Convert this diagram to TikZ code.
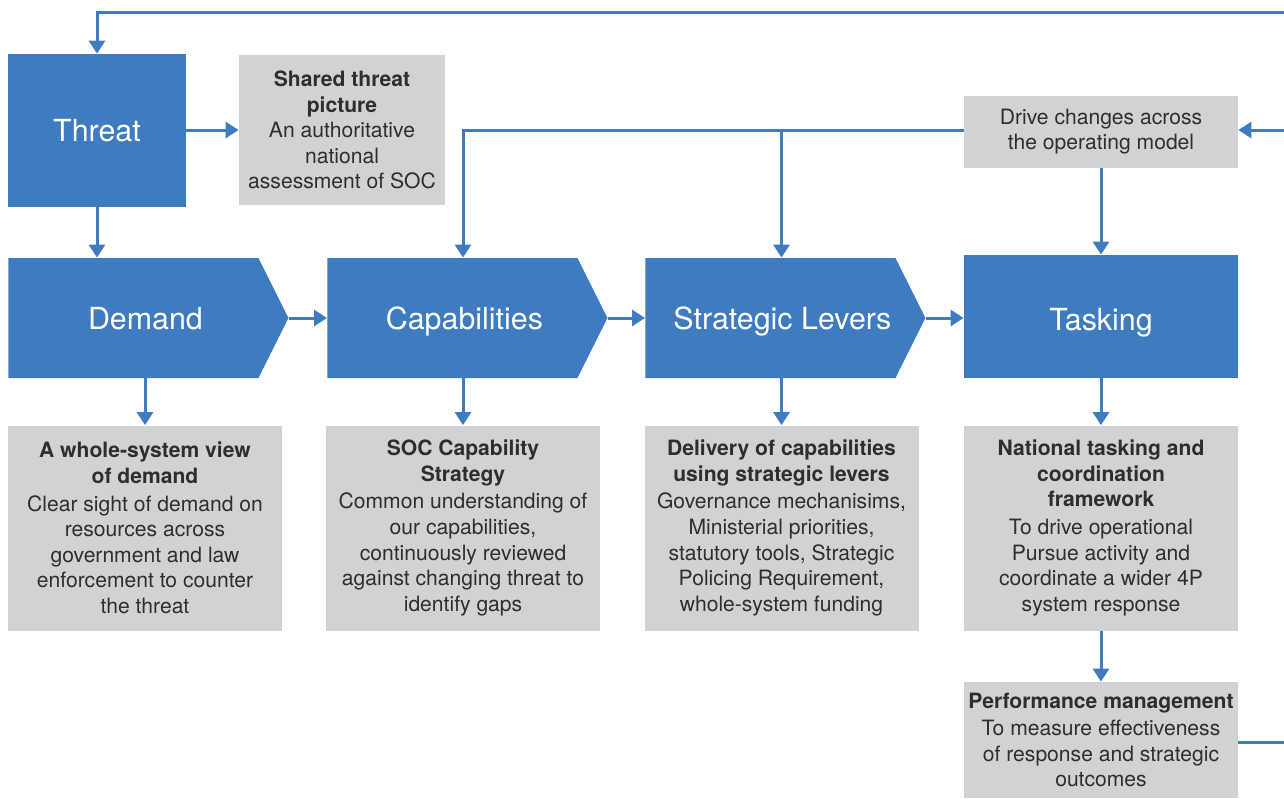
\documentclass[tikz,border=0pt]{standalone}
\usepackage{fontspec}
\setmainfont{TeX Gyre Heros}
\usetikzlibrary{arrows.meta,shapes.symbols}
\definecolor{socblue}{HTML}{3E7CBF}
\definecolor{socgray}{HTML}{D1D2D4}
\definecolor{soctext}{HTML}{2E2E2E}

\begin{document}
\begin{tikzpicture}[x=0.5pt,y=-0.5pt,
  bluebox/.style={fill=socblue,text=white,inner sep=0pt,text height=11pt,text depth=0pt,font=\fontsize{15.2}{18}\selectfont},
  chev/.style={bluebox,shape=signal,signal to=east,signal pointer angle=127,minimum width=140pt,minimum height=60pt,anchor=west,
    execute at begin node={\hspace*{12pt}}},
  infobox/.style={fill=socgray,text=soctext,align=center,inner sep=0pt,minimum width=137pt,font=\fontsize{10.55}{12.8}\selectfont},
  link/.style={socblue,line width=1.5pt,-{Triangle[width=8pt,length=6.5pt]}},
  plain/.style={socblue,line width=1.5pt}]
\useasboundingbox (0,0) rectangle (1284,798);

\coordinate (topR) at (1284,12);
\coordinate (midR) at (1284,130);
\coordinate (botR) at (1284,742);

\node[bluebox,minimum width=89pt,minimum height=76.5pt] (threat) at (97,130.5) {Threat};
\node[infobox,minimum width=103pt,minimum height=75pt] (shared) at (342,130)
  {\textbf{Shared threat}\\\textbf{picture}\\An authoritative\\national\\assessment of SOC};
\node[infobox,minimum height=36pt] (drive) at (1101,131.5)
  {Drive changes across\\the operating model};

\node[chev] (dem) at (8,318) {Demand};
\node[chev] (cap) at (327,318) {Capabilities};
\node[chev] (strat) at (645,318) {Strategic Levers};
\node[bluebox,minimum width=137pt,minimum height=61.5pt,text height=14pt] (task) at (1101,316.5) {Tasking};

\node[infobox,minimum height=102.5pt] (demi) at (145,528)
  {\textbf{A whole-system view}\\\textbf{of demand}\\[1pt]Clear sight of demand on\\resources across\\government and law\\enforcement to counter\\the threat};
\node[infobox,minimum height=102.5pt] (capi) at (463,528)
  {\textbf{SOC Capability}\\\textbf{Strategy}\\[1pt]Common understanding of\\our capabilities,\\continuously reviewed\\against changing threat to\\identify gaps};
\node[infobox,minimum height=102.5pt] (strati) at (781.5,528)
  {\textbf{Delivery of capabilities}\\\textbf{using strategic levers}\\[1pt]Governance mechanisims,\\Ministerial priorities,\\statutory tools, Strategic\\Policing Requirement,\\whole-system funding};
\node[infobox,minimum height=102.5pt] (taski) at (1101,528)
  {\textbf{National tasking and}\\\textbf{coordination}\\\textbf{framework}\\[1pt]To drive operational\\Pursue activity and\\coordinate a wider 4P\\system response};
\node[infobox,minimum height=58pt] (perf) at (1101,740)
  {\textbf{Performance management}\\[1pt]To measure effectiveness\\of response and strategic\\outcomes};

% feedback loop
\draw[link] (topR) -| (threat.north);
\draw[link] (threat.east |- midR) -- (shared.west |- midR);
\draw[link] (threat.south) -- (threat.south |- dem.north);

% main flow
\draw[link] (dem.east) -- (cap.west);
\draw[link] (cap.east) -- (strat.west);
\draw[link] (strat.east) -- (task.west |- strat.east);

\draw[link] (demi.north |- dem.south) -- (demi.north);
\draw[link] (capi.north |- cap.south) -- (capi.north);
\draw[link] (strati.north |- strat.south) -- (strati.north);
\draw[link] (task.south) -- (taski.north);

% drive changes
\draw[link] (midR) -- (drive.east |- midR);
\draw[link] (drive.west |- midR) -| (capi.north |- cap.north);
\draw[link] (strati.north |- midR) -- (strati.north |- strat.north);
\draw[link] (drive.south) -- (task.north);

\draw[link] (taski.south) -- (perf.north);
\draw[plain] (perf.east |- botR) -- (botR);
\end{tikzpicture}
\end{document}
